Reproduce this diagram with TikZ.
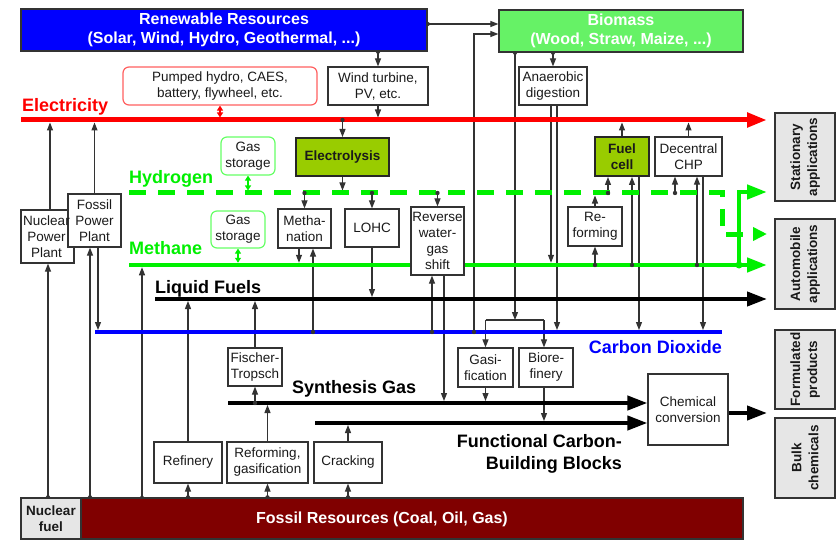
\documentclass[tikz,border=0pt]{standalone}
\usepackage{fontspec}
\setmainfont{Liberation Sans}
\usetikzlibrary{arrows.meta,backgrounds}
\definecolor{lc}{HTML}{333333}
\definecolor{txt}{HTML}{1A1A1A}
\definecolor{dk}{HTML}{262626}
\definecolor{bblue}{HTML}{0000FF}
\definecolor{biog}{HTML}{66F266}
\definecolor{h2g}{HTML}{00F000}
\definecolor{olive}{HTML}{99CC00}
\definecolor{fosred}{HTML}{800000}
\definecolor{lgray}{HTML}{E6E6E6}
\definecolor{pumpred}{HTML}{FF6060}
\definecolor{gsg}{HTML}{66FF66}
\definecolor{elred}{HTML}{FF0000}
\begin{document}
\begin{tikzpicture}[x=1pt,y=-1pt,
  box/.style={draw=lc, line width=1.2pt, fill=white, text=txt, align=center, inner sep=0pt, font=\fontsize{13.5}{16}\selectfont},
  head/.style={draw=lc, line width=1.2pt, text=white, align=center, inner sep=0pt, font=\bfseries\fontsize{16}{19}\selectfont},
  gbox/.style={box, fill=olive, line width=2pt, draw=dk, font=\bfseries\fontsize{13.5}{16}\selectfont},
  store/.style={box, rounded corners=6pt, draw=gsg},
  side/.style={draw=lc, line width=1.2pt, fill=lgray, text=txt, align=center, inner sep=0pt, rotate=90, minimum height=60, font=\bfseries\fontsize{13.5}{17}\selectfont},
  lab/.style={inner sep=0pt, font=\bfseries\fontsize{18}{22}\selectfont},
  conn/.style={draw=lc, line width=1.1pt, -{Triangle[length=8pt,width=6pt]}},
  thinl/.style={draw=lc, line width=1.1pt},
  dbl/.style={line width=1.1pt, {Triangle[length=5pt,width=6pt]}-{Triangle[length=5pt,width=6pt]}},
  bus/.style={line width=4.5pt, -{Triangle[length=20pt,width=14pt]}},
]
\useasboundingbox (0,0) rectangle (840,540);
% ---------- boxes
\node[head, fill=bblue, minimum width=406, minimum height=42] (ren) at (224,30) {Renewable Resources\\(Solar, Wind, Hydro, Geothermal, ...)};
\node[head, fill=biog, minimum width=244, minimum height=42] (bio) at (621,31) {Biomass\\(Wood, Straw, Maize, ...)};
\node[box, rounded corners=6pt, draw=pumpred, minimum width=194, minimum height=38] (pump) at (220,86) {Pumped hydro, CAES,\\battery, flywheel, etc.};
\node[box, minimum width=100, minimum height=38] (wind) at (378,86) {Wind turbine,\\PV, etc.};
\node[box, minimum width=68, minimum height=38] (anae) at (553,86) {Anaerobic\\digestion};
\node[gbox, minimum width=93, minimum height=38] (elys) at (342.5,157) {Electrolysis};
\node[store, minimum width=54, minimum height=38] (gs1) at (248,156) {Gas\\storage};
\node[store, minimum width=54, minimum height=37] (gs2) at (238,229.5) {Gas\\storage};
\node[gbox, minimum width=54, minimum height=39] (fuel) at (622,156.5) {Fuel\\cell};
\node[box, minimum width=67, minimum height=39] (chp) at (688.5,156.5) {Decentral\\CHP};
\node[box, minimum width=53, minimum height=53] (nuc) at (47.5,236.5) {};
\node[box, minimum width=53, minimum height=53] (fos) at (94.5,220.5) {Fossil\\Power\\Plant};
\node[box, draw=none, fill=none] (tnuc) at (46.5,236.5) {Nuclear\\Power\\Plant};
\node[box, minimum width=53, minimum height=39] (meth) at (304.5,228.5) {Metha-\\nation};
\node[box, minimum width=54, minimum height=38] (lohc) at (372,228) {LOHC};
\node[box, minimum width=53, minimum height=68] (rwgs) at (437.5,241) {Reverse\\water-\\gas\\shift};
\node[box, minimum width=54, minimum height=39] (refm) at (595,226.5) {Re-\\forming};
\node[box, minimum width=55, minimum height=39] (gasi) at (485.5,367.5) {Gasi-\\fication};
\node[box, minimum width=54, minimum height=39] (bior) at (546,367.5) {Biore-\\finery};
\node[box, minimum width=54, minimum height=38] (ft) at (255,367) {Fischer-\\Tropsch};
\node[box, minimum width=80, minimum height=71] (chem) at (688,409.5) {Chemical\\conversion};
\node[box, minimum width=68, minimum height=41] (refi) at (188,462.5) {Refinery};
\node[box, minimum width=81, minimum height=41] (rfg) at (267.5,462.5) {Reforming,\\gasification};
\node[box, minimum width=68, minimum height=41] (crack) at (348,462.5) {Cracking};
\node[box, fill=lgray, font=\bfseries\fontsize{13.5}{16}\selectfont, minimum width=60, minimum height=41] (nfuel) at (51,518.5) {Nuclear\\fuel};
\node[draw=lc, line width=1.2pt, fill=fosred, minimum width=662, minimum height=41, inner sep=0pt] (fres) at (412,518.5) {};
\node[text=white, font=\bfseries\fontsize{16}{19}\selectfont, inner sep=0pt] (tfres) at (382,519) {Fossil Resources (Coal, Oil, Gas)};
% side boxes
\node[side, minimum width=88] (stat) at (805,157) {Stationary\\applications};
\node[side, minimum width=90] (auto) at (805,264) {Automobile\\applications};
\node[side, minimum width=79] (form) at (805,369.5) {Formulated\\products};
\node[side, minimum width=80] (bulk) at (805,458) {Bulk\\chemicals};
% ---------- labels
\node[lab, text=elred, anchor=base west] (tel) at (22,112) {Electricity};
\node[lab, text=h2g, anchor=base west] (th2) at (129,183) {Hydrogen};
\node[lab, text=h2g, anchor=base west] (tch4) at (129,254) {Methane};
\node[lab, text=black, anchor=base west] (tlq) at (155,293) {Liquid Fuels};
\node[lab, text=bblue, anchor=base east] (tco) at (722,353) {Carbon Dioxide};
\node[lab, text=black, anchor=base west] (tsg) at (292,393) {Synthesis Gas};
\node[lab, text=black, align=right, anchor=north east] (tfc) at (622,434) {Functional Carbon-\\Building Blocks};
% ---------- bus coordinates
\coordinate (elA) at (21,120); \coordinate (elB) at (767,120);
\coordinate (h2A) at (129,193); \coordinate (h2C) at (722,193); \coordinate (h2D) at (722,234); \coordinate (h2B) at (767,234);
\coordinate (chA) at (129,265); \coordinate (chB) at (767,265); \coordinate (chC) at (739,265); \coordinate (chD) at (739,192); \coordinate (chE) at (767,192);
\coordinate (lqA) at (155,299); \coordinate (lqB) at (767,299);
\coordinate (coA) at (95,332); \coordinate (coB) at (722,332);
\coordinate (sgA) at (228,403);
\coordinate (fcA) at (315,423);
\coordinate (fk) at (515,320);
\coordinate (outC) at (767,413);
% ---------- tap points (dots)
\coordinate (d1) at ([yshift=6pt]ren.east);
\coordinate (d2) at (474,332);
\coordinate (d3) at (wind.north |- ren.south);
\coordinate (d4) at (anae.north |- bio.south);
\coordinate (d5) at (fk |- bio.south);
\coordinate (d6) at (elys.north |- elA);
\coordinate (d7) at (meth.north |- h2A);
\coordinate (d8) at ([xshift=8.5pt]meth.south |- coA);
\coordinate (d9) at (lohc.north |- h2A);
\coordinate (d10) at (rwgs.north |- h2A);
\coordinate (d11) at ([xshift=-5.5pt]rwgs.south |- coA);
\coordinate (d12) at (refm.south |- chA);
\coordinate (d13) at ([xshift=-14pt]fuel.south |- h2A);
\coordinate (d14) at ([xshift=10pt]fuel.south |- chA);
\coordinate (d15) at ([xshift=-13.5pt]chp.south |- h2A);
\coordinate (d16) at ([xshift=8.5pt]chp.south |- chA);
\coordinate (d17) at ([xshift=0.5pt]nuc.south |- fres.north);
\coordinate (d18) at ([xshift=-4.5pt]fos.south |- fres.north);
\coordinate (d19) at (142,498);
\coordinate (d20) at (refi.south |- fres.north);
\coordinate (d21) at (rfg.south |- fres.north);
\coordinate (d22) at (crack.south |- fres.north);
\coordinate (d23) at (ft.south |- sgA);
\begin{pgfonlayer}{background}
\fill[white] (0,0) rectangle (840,540);
% ---------- thin connectors
\draw[conn] (d1) -- (d1 -| bio.west);
\draw[conn] (d2) |- ([yshift=-3pt]bio.west);
\draw[conn] (d3) -- (wind.north);
\draw[conn, shorten >=2.5pt] (wind.south) -- (wind.south |- elA);
\draw[dbl, elred, shorten >=2.5pt] (pump.south) -- (pump.south |- elA);
\draw[conn] (d4) -- (anae.north);
\draw[conn] (d5) -- (fk);
\draw[thinl] (gasi.north |- fk) -- ([xshift=-2pt]bior.north |- fk);
\draw[conn] (gasi.north |- fk) -- (gasi.north);
\draw[conn] ([xshift=-2pt]bior.north |- fk) -- ([xshift=-2pt]bior.north);
\draw[conn, shorten >=2.25pt] ([xshift=-2pt]anae.south) -- ([xshift=-2pt]anae.south |- chA);
\draw[conn, shorten >=2pt] ([xshift=4pt]anae.south) -- ([xshift=4pt]anae.south |- coA);
\draw[conn] (d6) -- (elys.north);
\draw[conn, shorten >=2.5pt] (elys.south) -- (elys.south |- h2A);
\draw[dbl, h2g, shorten >=2.5pt] (gs1.south) -- (gs1.south |- h2A);
\draw[dbl, h2g, shorten >=2.25pt] (gs2.south) -- (gs2.south |- chA);
\draw[conn] (d7) -- (meth.north);
\draw[conn, shorten >=2.25pt] ([xshift=-5.5pt]meth.south) -- ([xshift=-5.5pt]meth.south |- chA);
\draw[conn] (d8) -- ([xshift=8.5pt]meth.south);
\draw[conn] (d9) -- (lohc.north);
\draw[conn, shorten >=2pt] (lohc.south) -- (lohc.south |- lqA);
\draw[conn] (d10) -- (rwgs.north);
\draw[conn] (d11) -- ([xshift=-5.5pt]rwgs.south);
\draw[conn, shorten >=2pt] ([xshift=6.5pt]rwgs.south) -- ([xshift=6.5pt]rwgs.south |- sgA);
\draw[conn] (d12) -- (refm.south);
\draw[conn, shorten >=2.5pt] (refm.north) -- (refm.north |- h2A);
\draw[conn] (d13) -- ([xshift=-14pt]fuel.south);
\draw[conn] (d14) -- ([xshift=10pt]fuel.south);
\draw[conn, shorten >=2pt] ([xshift=17pt]fuel.south) -- ([xshift=17pt]fuel.south |- coA);
\draw[conn, shorten >=2.5pt] (fuel.north) -- (fuel.north |- elA);
\draw[conn] (d15) -- ([xshift=-13.5pt]chp.south);
\draw[conn] (d16) -- ([xshift=8.5pt]chp.south);
\draw[conn, shorten >=2pt] ([xshift=14.5pt]chp.south) -- ([xshift=14.5pt]chp.south |- coA);
\draw[conn, shorten >=2.5pt] (chp.north) -- (chp.north |- elA);
\draw[conn, shorten >=2.5pt] ([xshift=2.5pt]nuc.north) -- ([xshift=2.5pt]nuc.north |- elA);
\draw[conn, shorten >=2.5pt] (fos.north) -- (fos.north |- elA);
\draw[conn] (d17) -- ([xshift=0.5pt]nuc.south);
\draw[conn] (d18) -- ([xshift=-4.5pt]fos.south);
\draw[conn, shorten >=2pt] ([xshift=3.5pt]fos.south) -- ([xshift=3.5pt]fos.south |- coA);
\draw[conn, shorten >=2.25pt] (d19) -- (d19 |- chA);
\draw[conn] (d20) -- (refi.south);
\draw[conn, shorten >=2pt] (refi.north) -- (refi.north |- lqA);
\draw[conn] (d21) -- (rfg.south);
\draw[conn, shorten >=2pt] (rfg.north) -- (rfg.north |- sgA);
\draw[conn] (d22) -- (crack.south);
\draw[conn, shorten >=2pt] (crack.north) -- (crack.north |- fcA);
\draw[conn] (d23) -- (ft.south);
\draw[conn, shorten >=2pt] (ft.north) -- (ft.north |- lqA);
\draw[conn, shorten >=2pt] (gasi.south) -- (gasi.south |- sgA);
\draw[conn, shorten >=2pt] ([xshift=-2pt]bior.south) -- ([xshift=-2pt]bior.south |- fcA);
% ---------- buses
\draw[bus, elred, line width=5pt] (elA) -- (elB);
\draw[bus, h2g, line width=5pt, dash pattern=on 17pt off 12pt, -{Triangle[length=14pt,width=13pt]}] (h2A) -- (h2C) -- (h2D) -- (h2B);
\draw[bus, h2g] (chA) -- (chB);
\draw[bus, h2g] (chC) -- (chD) -- (chE);
\draw[bus, black, line width=4pt] (lqA) -- (lqB);
\draw[bblue, line width=4pt] (coA) -- (coB);
\draw[bus, black, line width=4pt] (sgA) -- (sgA -| chem.west);
\draw[bus, black, line width=4pt] (fcA) -- (fcA -| chem.west);
\draw[bus, black, line width=4pt] ([yshift=-3.5pt]chem.east) -- (outC);
% ---------- dots
\foreach \d in {d1,d2,d3,d4,d5,d6,d7,d8,d9,d10,d11,d12,d13,d14,d15,d16,d17,d18,d19,d20,d21,d22,d23}
  \fill[lc] (\d) circle (2.2pt);
\fill[h2g] (chC) circle (3.5pt);
\end{pgfonlayer}
\end{tikzpicture}
\end{document}
